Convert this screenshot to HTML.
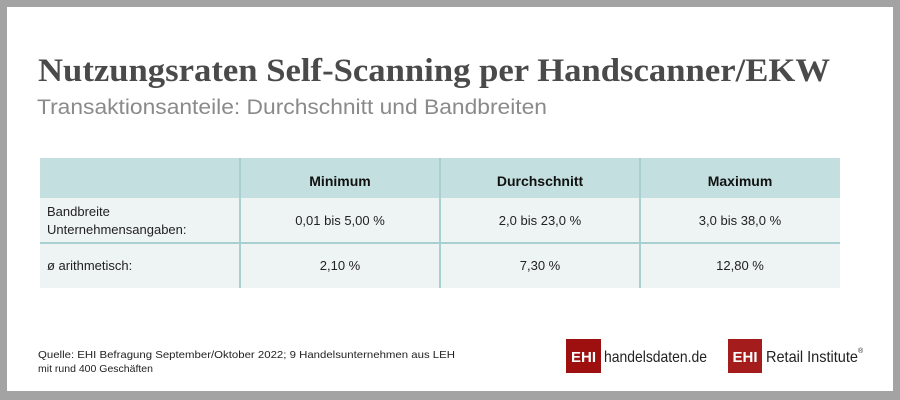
<!DOCTYPE html>
<html><head><meta charset="utf-8"><style>
html,body{margin:0;padding:0;background:#a3a3a3;}
svg{display:block}
</style></head><body>
<svg width="900" height="400" xmlns="http://www.w3.org/2000/svg" font-family="Liberation Sans, sans-serif">
<rect x="0" y="0" width="900" height="400" fill="#a3a3a3"/>
<rect x="7" y="7" width="886" height="384" fill="#ffffff"/>
<text x="38" y="81" font-family="Liberation Serif, serif" font-weight="bold" font-size="33" fill="#4a4a4a" textLength="792" lengthAdjust="spacingAndGlyphs">Nutzungsraten Self-Scanning per Handscanner/EKW</text>
<text x="37" y="114" font-size="21" fill="#8a8a8a" textLength="510" lengthAdjust="spacingAndGlyphs">Transaktionsanteile: Durchschnitt und Bandbreiten</text>
<rect x="40" y="158" width="800" height="40" fill="#c3dfdf"/>
<rect x="40" y="198" width="800" height="90" fill="#eef4f3"/>
<rect x="40" y="242" width="800" height="2" fill="#a8d0d0"/>
<rect x="239" y="158" width="2" height="130" fill="#a8d0d0"/>
<rect x="439" y="158" width="2" height="130" fill="#a8d0d0"/>
<rect x="639" y="158" width="2" height="130" fill="#a8d0d0"/>
<g font-size="14" font-weight="bold" fill="#111" text-anchor="middle">
<text x="340" y="186">Minimum</text>
<text x="540" y="186">Durchschnitt</text>
<text x="740" y="186">Maximum</text>
</g>
<g font-size="13" fill="#222">
<text x="47" y="216">Bandbreite</text>
<text x="47" y="234">Unternehmensangaben:</text>
<text x="47" y="270">ø arithmetisch:</text>
</g>
<g font-size="13" fill="#222" text-anchor="middle">
<text x="340" y="225">0,01 bis 5,00 %</text>
<text x="540" y="225">2,0 bis 23,0 %</text>
<text x="740" y="225">3,0 bis 38,0 %</text>
<text x="340" y="270">2,10 %</text>
<text x="540" y="270">7,30 %</text>
<text x="740" y="270">12,80 %</text>
</g>
<g font-size="10.5" fill="#222">
<text x="38" y="358" textLength="417" lengthAdjust="spacingAndGlyphs">Quelle: EHI Befragung September/Oktober 2022; 9 Handelsunternehmen aus LEH</text>
<text x="38" y="372">mit rund 400 Geschäften</text>
</g>
<rect x="566" y="339" width="35" height="34" fill="#9e0f0f"/>
<text x="583.5" y="362" font-size="15" font-weight="bold" fill="#fff" text-anchor="middle">EHI</text>
<text x="604" y="362" font-size="16" fill="#222" textLength="103" lengthAdjust="spacingAndGlyphs">handelsdaten.de</text>
<rect x="728" y="339" width="34" height="34" fill="#a51c1c"/>
<text x="745" y="362" font-size="15" font-weight="bold" fill="#fff" text-anchor="middle">EHI</text>
<text x="766" y="362" font-size="16" fill="#222" textLength="92" lengthAdjust="spacingAndGlyphs">Retail Institute</text>
<text x="858" y="353" font-size="7" fill="#222">®</text>
</svg>
</body></html>
